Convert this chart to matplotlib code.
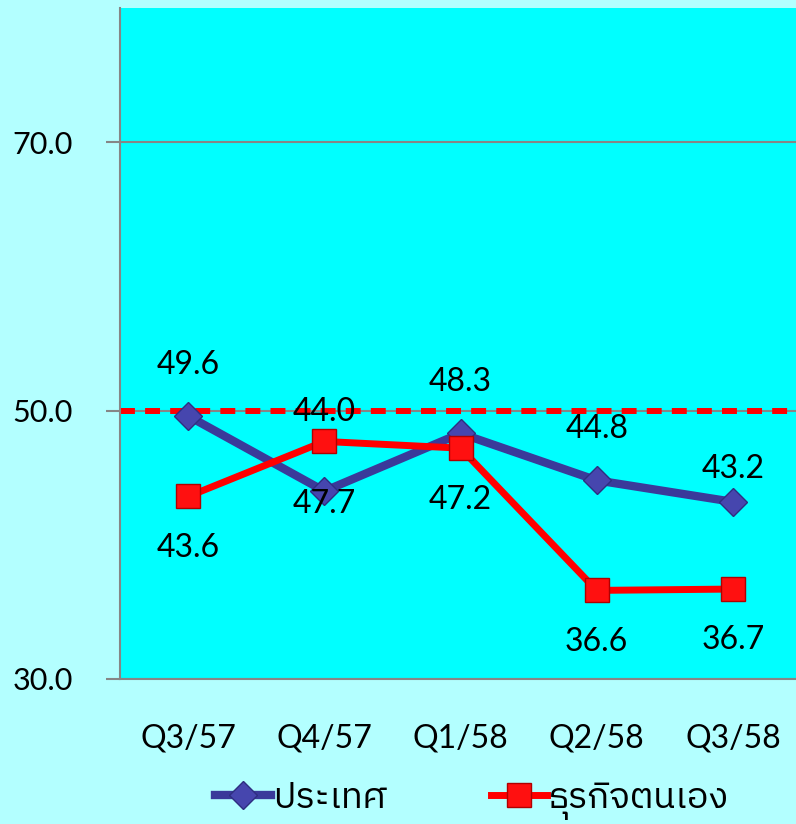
import matplotlib
matplotlib.use("Agg")
import matplotlib.pyplot as plt
from matplotlib import font_manager
from matplotlib.ft2font import FT2Font

quarters = ["Q3/57", "Q4/57", "Q1/58", "Q2/58", "Q3/58"]
country = [49.6, 44.0, 48.3, 44.8, 43.2]
own_business = [43.6, 47.7, 47.2, 36.6, 36.7]
series_names = ["ประเทศ", "ธุรกิจตนเอง"]
threshold = 50.0
y_ticks = [30.0, 50.0, 70.0]

# label offsets in points (positive = above the point)
country_dy = [37, 57, 37, 37, 24]
own_dy = [-37, -45, -37, -37, -37]


def thai_family():
    # pick any installed font that can draw Thai
    for f in font_manager.fontManager.ttflist:
        if "Thai" in f.name:
            return f.name
    for f in font_manager.fontManager.ttflist:
        try:
            if 0x0E1B in FT2Font(f.fname).get_charmap():
                return f.name
        except Exception:
            pass
    return "DejaVu Sans"


def main():
    thai = thai_family()
    plt.rcParams["font.family"] = ["Lato", thai, "DejaVu Sans"]

    fig = plt.figure(figsize=(7.96, 8.24), dpi=100)
    fig.patch.set_facecolor("#B3FFFF")
    ax = fig.add_axes([0.1508, 0.176, 0.8555, 0.8143])
    ax.set_facecolor("#00FFFF")

    x = range(len(quarters))

    ax.axhline(threshold, color="#FF0000", lw=4.3, dashes=(2.5, 1.7), zorder=2)

    ax.plot(x, country, color="#3A3A9A", lw=6, marker="D", ms=14,
            markerfacecolor="#4646AE", markeredgecolor="#2E2E80", mew=1,
            label=series_names[0], zorder=3)
    ax.plot(x, own_business, color="#FF0000", lw=5, marker="s", ms=17,
            markerfacecolor="#FF1010", markeredgecolor="#B00000", mew=1,
            label=series_names[1], zorder=4)

    for i, v in enumerate(country):
        ax.annotate(f"{v:.1f}", (i, v), xytext=(0, country_dy[i]),
                    textcoords="offset points", ha="center", va="center",
                    fontsize=23, color="black", zorder=6)
    for i, v in enumerate(own_business):
        ax.annotate(f"{v:.1f}", (i, v), xytext=(0, own_dy[i]),
                    textcoords="offset points", ha="center", va="center",
                    fontsize=23, color="black", zorder=6)

    ax.set_xlim(-0.5, len(quarters) - 0.5)
    ax.set_ylim(30, 80)
    ax.set_xticks(list(x))
    ax.set_xticklabels(quarters, fontsize=23)
    ax.set_yticks(y_ticks)
    ax.set_yticklabels([f"{t:.1f}" for t in y_ticks], fontsize=22)
    ax.tick_params(axis="x", length=0, pad=32)
    ax.tick_params(axis="y", length=10, width=1.5, color="#868686", pad=24)
    ax.grid(axis="y", color="#868686", lw=1.5, zorder=1)

    for side in ["top", "right"]:
        ax.spines[side].set_visible(False)
    for side in ["left", "bottom"]:
        ax.spines[side].set_color("#868686")
        ax.spines[side].set_linewidth(1.5)

    fig.legend(loc="center", bbox_to_anchor=(0.593, 0.029), ncol=2,
               frameon=False, fontsize=26, handlelength=1.55,
               handletextpad=0.05, columnspacing=2.9)

    fig.savefig("out.png", dpi=100, facecolor=fig.get_facecolor())
    plt.close(fig)


if __name__ == "__main__":
    main()
